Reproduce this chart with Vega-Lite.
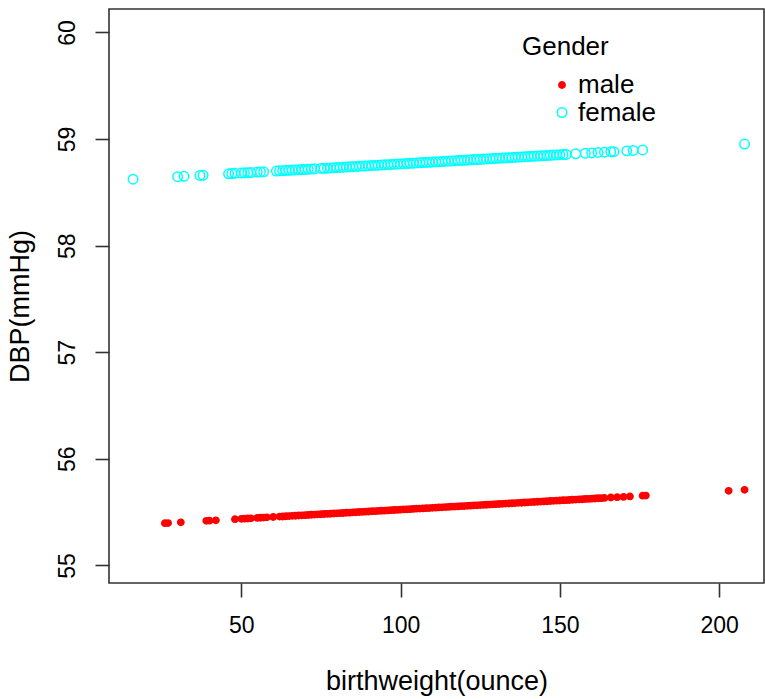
{
  "$schema": "https://vega.github.io/schema/vega-lite/v6.json",
  "autosize": "none",
  "width": 655,
  "height": 574,
  "padding": {"left": 109, "top": 9, "right": 1, "bottom": 116},
  "background": "white",
  "config": {
    "font": "Liberation Sans",
    "view": {"stroke": "#333333", "strokeWidth": 1.6},
    "axis": {
      "grid": false,
      "domain": false,
      "tickColor": "#333333",
      "tickWidth": 1.6,
      "tickSize": 14,
      "labelFont": "Liberation Sans",
      "labelFontSize": 23,
      "labelColor": "#000000",
      "titleFont": "Liberation Sans",
      "titleFontSize": 27,
      "titleFontWeight": "normal",
      "titleColor": "#000000"
    },
    "legend": {
      "labelFont": "Liberation Sans",
      "titleFont": "Liberation Sans"
    }
  },
  "datasets": {
    "pts": [
      {"bw": 26, "dbp": 55.396, "gender": "male"},
      {"bw": 27, "dbp": 55.397, "gender": "male"},
      {"bw": 31, "dbp": 55.404, "gender": "male"},
      {"bw": 39, "dbp": 55.418, "gender": "male"},
      {"bw": 40, "dbp": 55.420, "gender": "male"},
      {"bw": 42, "dbp": 55.423, "gender": "male"},
      {"bw": 48, "dbp": 55.434, "gender": "male"},
      {"bw": 50, "dbp": 55.437, "gender": "male"},
      {"bw": 51, "dbp": 55.439, "gender": "male"},
      {"bw": 52, "dbp": 55.440, "gender": "male"},
      {"bw": 53, "dbp": 55.442, "gender": "male"},
      {"bw": 55, "dbp": 55.446, "gender": "male"},
      {"bw": 56, "dbp": 55.447, "gender": "male"},
      {"bw": 57, "dbp": 55.449, "gender": "male"},
      {"bw": 58, "dbp": 55.451, "gender": "male"},
      {"bw": 60, "dbp": 55.454, "gender": "male"},
      {"bw": 62, "dbp": 55.458, "gender": "male"},
      {"bw": 63, "dbp": 55.459, "gender": "male"},
      {"bw": 64, "dbp": 55.461, "gender": "male"},
      {"bw": 65, "dbp": 55.463, "gender": "male"},
      {"bw": 66, "dbp": 55.465, "gender": "male"},
      {"bw": 67, "dbp": 55.466, "gender": "male"},
      {"bw": 68, "dbp": 55.468, "gender": "male"},
      {"bw": 69, "dbp": 55.470, "gender": "male"},
      {"bw": 70, "dbp": 55.471, "gender": "male"},
      {"bw": 71, "dbp": 55.473, "gender": "male"},
      {"bw": 72, "dbp": 55.475, "gender": "male"},
      {"bw": 73, "dbp": 55.477, "gender": "male"},
      {"bw": 74, "dbp": 55.478, "gender": "male"},
      {"bw": 75, "dbp": 55.480, "gender": "male"},
      {"bw": 76, "dbp": 55.482, "gender": "male"},
      {"bw": 77, "dbp": 55.483, "gender": "male"},
      {"bw": 78, "dbp": 55.485, "gender": "male"},
      {"bw": 79, "dbp": 55.487, "gender": "male"},
      {"bw": 80, "dbp": 55.489, "gender": "male"},
      {"bw": 81, "dbp": 55.490, "gender": "male"},
      {"bw": 82, "dbp": 55.492, "gender": "male"},
      {"bw": 83, "dbp": 55.494, "gender": "male"},
      {"bw": 84, "dbp": 55.495, "gender": "male"},
      {"bw": 85, "dbp": 55.497, "gender": "male"},
      {"bw": 86, "dbp": 55.499, "gender": "male"},
      {"bw": 87, "dbp": 55.501, "gender": "male"},
      {"bw": 88, "dbp": 55.502, "gender": "male"},
      {"bw": 89, "dbp": 55.504, "gender": "male"},
      {"bw": 90, "dbp": 55.506, "gender": "male"},
      {"bw": 91, "dbp": 55.508, "gender": "male"},
      {"bw": 92, "dbp": 55.509, "gender": "male"},
      {"bw": 93, "dbp": 55.511, "gender": "male"},
      {"bw": 94, "dbp": 55.513, "gender": "male"},
      {"bw": 95, "dbp": 55.514, "gender": "male"},
      {"bw": 96, "dbp": 55.516, "gender": "male"},
      {"bw": 97, "dbp": 55.518, "gender": "male"},
      {"bw": 98, "dbp": 55.520, "gender": "male"},
      {"bw": 99, "dbp": 55.521, "gender": "male"},
      {"bw": 100, "dbp": 55.523, "gender": "male"},
      {"bw": 101, "dbp": 55.525, "gender": "male"},
      {"bw": 102, "dbp": 55.526, "gender": "male"},
      {"bw": 103, "dbp": 55.528, "gender": "male"},
      {"bw": 104, "dbp": 55.530, "gender": "male"},
      {"bw": 105, "dbp": 55.532, "gender": "male"},
      {"bw": 106, "dbp": 55.533, "gender": "male"},
      {"bw": 107, "dbp": 55.535, "gender": "male"},
      {"bw": 108, "dbp": 55.537, "gender": "male"},
      {"bw": 109, "dbp": 55.538, "gender": "male"},
      {"bw": 110, "dbp": 55.540, "gender": "male"},
      {"bw": 111, "dbp": 55.542, "gender": "male"},
      {"bw": 112, "dbp": 55.544, "gender": "male"},
      {"bw": 113, "dbp": 55.545, "gender": "male"},
      {"bw": 114, "dbp": 55.547, "gender": "male"},
      {"bw": 115, "dbp": 55.549, "gender": "male"},
      {"bw": 116, "dbp": 55.551, "gender": "male"},
      {"bw": 117, "dbp": 55.552, "gender": "male"},
      {"bw": 118, "dbp": 55.554, "gender": "male"},
      {"bw": 119, "dbp": 55.556, "gender": "male"},
      {"bw": 120, "dbp": 55.557, "gender": "male"},
      {"bw": 121, "dbp": 55.559, "gender": "male"},
      {"bw": 122, "dbp": 55.561, "gender": "male"},
      {"bw": 123, "dbp": 55.563, "gender": "male"},
      {"bw": 124, "dbp": 55.564, "gender": "male"},
      {"bw": 125, "dbp": 55.566, "gender": "male"},
      {"bw": 126, "dbp": 55.568, "gender": "male"},
      {"bw": 127, "dbp": 55.569, "gender": "male"},
      {"bw": 128, "dbp": 55.571, "gender": "male"},
      {"bw": 129, "dbp": 55.573, "gender": "male"},
      {"bw": 130, "dbp": 55.575, "gender": "male"},
      {"bw": 131, "dbp": 55.576, "gender": "male"},
      {"bw": 132, "dbp": 55.578, "gender": "male"},
      {"bw": 133, "dbp": 55.580, "gender": "male"},
      {"bw": 134, "dbp": 55.581, "gender": "male"},
      {"bw": 135, "dbp": 55.583, "gender": "male"},
      {"bw": 136, "dbp": 55.585, "gender": "male"},
      {"bw": 137, "dbp": 55.587, "gender": "male"},
      {"bw": 138, "dbp": 55.588, "gender": "male"},
      {"bw": 139, "dbp": 55.590, "gender": "male"},
      {"bw": 140, "dbp": 55.592, "gender": "male"},
      {"bw": 141, "dbp": 55.594, "gender": "male"},
      {"bw": 142, "dbp": 55.595, "gender": "male"},
      {"bw": 143, "dbp": 55.597, "gender": "male"},
      {"bw": 144, "dbp": 55.599, "gender": "male"},
      {"bw": 145, "dbp": 55.600, "gender": "male"},
      {"bw": 146, "dbp": 55.602, "gender": "male"},
      {"bw": 147, "dbp": 55.604, "gender": "male"},
      {"bw": 148, "dbp": 55.606, "gender": "male"},
      {"bw": 149, "dbp": 55.607, "gender": "male"},
      {"bw": 150, "dbp": 55.609, "gender": "male"},
      {"bw": 151, "dbp": 55.611, "gender": "male"},
      {"bw": 152, "dbp": 55.612, "gender": "male"},
      {"bw": 153, "dbp": 55.614, "gender": "male"},
      {"bw": 154, "dbp": 55.616, "gender": "male"},
      {"bw": 155, "dbp": 55.618, "gender": "male"},
      {"bw": 156, "dbp": 55.619, "gender": "male"},
      {"bw": 157, "dbp": 55.621, "gender": "male"},
      {"bw": 158, "dbp": 55.623, "gender": "male"},
      {"bw": 159, "dbp": 55.624, "gender": "male"},
      {"bw": 160, "dbp": 55.626, "gender": "male"},
      {"bw": 161, "dbp": 55.628, "gender": "male"},
      {"bw": 162, "dbp": 55.630, "gender": "male"},
      {"bw": 163, "dbp": 55.631, "gender": "male"},
      {"bw": 164, "dbp": 55.633, "gender": "male"},
      {"bw": 166, "dbp": 55.637, "gender": "male"},
      {"bw": 168, "dbp": 55.640, "gender": "male"},
      {"bw": 170, "dbp": 55.643, "gender": "male"},
      {"bw": 172, "dbp": 55.647, "gender": "male"},
      {"bw": 176, "dbp": 55.654, "gender": "male"},
      {"bw": 177, "dbp": 55.655, "gender": "male"},
      {"bw": 203, "dbp": 55.700, "gender": "male"},
      {"bw": 208, "dbp": 55.709, "gender": "male"},
      {"bw": 16, "dbp": 58.623, "gender": "female"},
      {"bw": 30, "dbp": 58.647, "gender": "female"},
      {"bw": 32, "dbp": 58.650, "gender": "female"},
      {"bw": 37, "dbp": 58.659, "gender": "female"},
      {"bw": 38, "dbp": 58.660, "gender": "female"},
      {"bw": 46, "dbp": 58.674, "gender": "female"},
      {"bw": 47, "dbp": 58.676, "gender": "female"},
      {"bw": 48, "dbp": 58.678, "gender": "female"},
      {"bw": 50, "dbp": 58.681, "gender": "female"},
      {"bw": 51, "dbp": 58.683, "gender": "female"},
      {"bw": 52, "dbp": 58.684, "gender": "female"},
      {"bw": 53, "dbp": 58.686, "gender": "female"},
      {"bw": 55, "dbp": 58.690, "gender": "female"},
      {"bw": 56, "dbp": 58.691, "gender": "female"},
      {"bw": 57, "dbp": 58.693, "gender": "female"},
      {"bw": 61, "dbp": 58.700, "gender": "female"},
      {"bw": 62, "dbp": 58.702, "gender": "female"},
      {"bw": 63, "dbp": 58.703, "gender": "female"},
      {"bw": 64, "dbp": 58.705, "gender": "female"},
      {"bw": 65, "dbp": 58.707, "gender": "female"},
      {"bw": 66, "dbp": 58.709, "gender": "female"},
      {"bw": 67, "dbp": 58.710, "gender": "female"},
      {"bw": 68, "dbp": 58.712, "gender": "female"},
      {"bw": 69, "dbp": 58.714, "gender": "female"},
      {"bw": 70, "dbp": 58.715, "gender": "female"},
      {"bw": 71, "dbp": 58.717, "gender": "female"},
      {"bw": 72, "dbp": 58.719, "gender": "female"},
      {"bw": 73, "dbp": 58.721, "gender": "female"},
      {"bw": 75, "dbp": 58.724, "gender": "female"},
      {"bw": 76, "dbp": 58.726, "gender": "female"},
      {"bw": 77, "dbp": 58.727, "gender": "female"},
      {"bw": 78, "dbp": 58.729, "gender": "female"},
      {"bw": 79, "dbp": 58.731, "gender": "female"},
      {"bw": 80, "dbp": 58.733, "gender": "female"},
      {"bw": 81, "dbp": 58.734, "gender": "female"},
      {"bw": 82, "dbp": 58.736, "gender": "female"},
      {"bw": 83, "dbp": 58.738, "gender": "female"},
      {"bw": 84, "dbp": 58.739, "gender": "female"},
      {"bw": 85, "dbp": 58.741, "gender": "female"},
      {"bw": 86, "dbp": 58.743, "gender": "female"},
      {"bw": 87, "dbp": 58.745, "gender": "female"},
      {"bw": 88, "dbp": 58.746, "gender": "female"},
      {"bw": 89, "dbp": 58.748, "gender": "female"},
      {"bw": 90, "dbp": 58.750, "gender": "female"},
      {"bw": 91, "dbp": 58.752, "gender": "female"},
      {"bw": 92, "dbp": 58.753, "gender": "female"},
      {"bw": 93, "dbp": 58.755, "gender": "female"},
      {"bw": 94, "dbp": 58.757, "gender": "female"},
      {"bw": 95, "dbp": 58.758, "gender": "female"},
      {"bw": 96, "dbp": 58.760, "gender": "female"},
      {"bw": 97, "dbp": 58.762, "gender": "female"},
      {"bw": 98, "dbp": 58.764, "gender": "female"},
      {"bw": 99, "dbp": 58.765, "gender": "female"},
      {"bw": 100, "dbp": 58.767, "gender": "female"},
      {"bw": 101, "dbp": 58.769, "gender": "female"},
      {"bw": 102, "dbp": 58.770, "gender": "female"},
      {"bw": 103, "dbp": 58.772, "gender": "female"},
      {"bw": 104, "dbp": 58.774, "gender": "female"},
      {"bw": 105, "dbp": 58.776, "gender": "female"},
      {"bw": 106, "dbp": 58.777, "gender": "female"},
      {"bw": 107, "dbp": 58.779, "gender": "female"},
      {"bw": 108, "dbp": 58.781, "gender": "female"},
      {"bw": 109, "dbp": 58.782, "gender": "female"},
      {"bw": 110, "dbp": 58.784, "gender": "female"},
      {"bw": 111, "dbp": 58.786, "gender": "female"},
      {"bw": 112, "dbp": 58.788, "gender": "female"},
      {"bw": 113, "dbp": 58.789, "gender": "female"},
      {"bw": 114, "dbp": 58.791, "gender": "female"},
      {"bw": 115, "dbp": 58.793, "gender": "female"},
      {"bw": 116, "dbp": 58.795, "gender": "female"},
      {"bw": 117, "dbp": 58.796, "gender": "female"},
      {"bw": 118, "dbp": 58.798, "gender": "female"},
      {"bw": 119, "dbp": 58.800, "gender": "female"},
      {"bw": 120, "dbp": 58.801, "gender": "female"},
      {"bw": 121, "dbp": 58.803, "gender": "female"},
      {"bw": 122, "dbp": 58.805, "gender": "female"},
      {"bw": 123, "dbp": 58.807, "gender": "female"},
      {"bw": 124, "dbp": 58.808, "gender": "female"},
      {"bw": 125, "dbp": 58.810, "gender": "female"},
      {"bw": 126, "dbp": 58.812, "gender": "female"},
      {"bw": 127, "dbp": 58.813, "gender": "female"},
      {"bw": 128, "dbp": 58.815, "gender": "female"},
      {"bw": 129, "dbp": 58.817, "gender": "female"},
      {"bw": 130, "dbp": 58.819, "gender": "female"},
      {"bw": 131, "dbp": 58.820, "gender": "female"},
      {"bw": 132, "dbp": 58.822, "gender": "female"},
      {"bw": 133, "dbp": 58.824, "gender": "female"},
      {"bw": 134, "dbp": 58.825, "gender": "female"},
      {"bw": 135, "dbp": 58.827, "gender": "female"},
      {"bw": 136, "dbp": 58.829, "gender": "female"},
      {"bw": 137, "dbp": 58.831, "gender": "female"},
      {"bw": 138, "dbp": 58.832, "gender": "female"},
      {"bw": 139, "dbp": 58.834, "gender": "female"},
      {"bw": 140, "dbp": 58.836, "gender": "female"},
      {"bw": 141, "dbp": 58.838, "gender": "female"},
      {"bw": 142, "dbp": 58.839, "gender": "female"},
      {"bw": 143, "dbp": 58.841, "gender": "female"},
      {"bw": 144, "dbp": 58.843, "gender": "female"},
      {"bw": 145, "dbp": 58.844, "gender": "female"},
      {"bw": 146, "dbp": 58.846, "gender": "female"},
      {"bw": 147, "dbp": 58.848, "gender": "female"},
      {"bw": 148, "dbp": 58.850, "gender": "female"},
      {"bw": 149, "dbp": 58.851, "gender": "female"},
      {"bw": 150, "dbp": 58.853, "gender": "female"},
      {"bw": 151, "dbp": 58.855, "gender": "female"},
      {"bw": 152, "dbp": 58.856, "gender": "female"},
      {"bw": 155, "dbp": 58.862, "gender": "female"},
      {"bw": 158, "dbp": 58.867, "gender": "female"},
      {"bw": 160, "dbp": 58.870, "gender": "female"},
      {"bw": 162, "dbp": 58.874, "gender": "female"},
      {"bw": 164, "dbp": 58.877, "gender": "female"},
      {"bw": 166, "dbp": 58.881, "gender": "female"},
      {"bw": 167, "dbp": 58.882, "gender": "female"},
      {"bw": 171, "dbp": 58.889, "gender": "female"},
      {"bw": 173, "dbp": 58.893, "gender": "female"},
      {"bw": 176, "dbp": 58.898, "gender": "female"},
      {"bw": 208, "dbp": 58.953, "gender": "female"}
    ]
  },
  "data": {"name": "pts"},
  "mark": {"type": "point", "filled": false, "strokeWidth": 1.5, "opacity": 1},
  "encoding": {
    "x": {
      "field": "bw",
      "type": "quantitative",
      "scale": {"domain": [8.45, 214.1], "nice": false, "zero": false},
      "axis": {"values": [50, 100, 150, 200], "title": "birthweight(ounce)", "labelPadding": 17, "titlePadding": 31}
    },
    "y": {
      "field": "dbp",
      "type": "quantitative",
      "scale": {"domain": [54.835, 60.22], "nice": false, "zero": false},
      "axis": {"values": [55, 56, 57, 58, 59, 60], "title": "DBP(mmHg)", "titleY": 297, "labelAngle": -90, "labelAlign": "center", "labelBaseline": "bottom", "labelPadding": 16, "titlePadding": 22}
    },
    "fill": {
      "field": "gender",
      "type": "nominal",
      "scale": {"domain": ["male", "female"], "range": ["#FF0000", "rgba(0,0,0,0)"]},
      "legend": {"title": "Gender"}
    },
    "stroke": {
      "field": "gender",
      "type": "nominal",
      "scale": {"domain": ["male", "female"], "range": ["#FF0000", "#00FFFF"]},
      "legend": {"title": "Gender"}
    },
    "size": {
      "field": "gender",
      "type": "nominal",
      "scale": {"domain": ["male", "female"], "range": [40, 90]},
      "legend": {
        "title": "Gender",
        "orient": "none",
        "legendX": 413,
        "legendY": 25,
        "padding": 0,
        "titleAnchor": "start",
        "titleAlign": "left",
        "titleFontSize": 26,
        "titleFontWeight": "normal",
        "titleColor": "#000000",
        "titlePadding": 12,
        "labelFontSize": 26,
        "labelColor": "#000000",
        "labelOffset": 3,
        "symbolOffset": 27,
        "rowPadding": 1.5,
        "symbolStrokeWidth": 1.5
      }
    }
  }
}
